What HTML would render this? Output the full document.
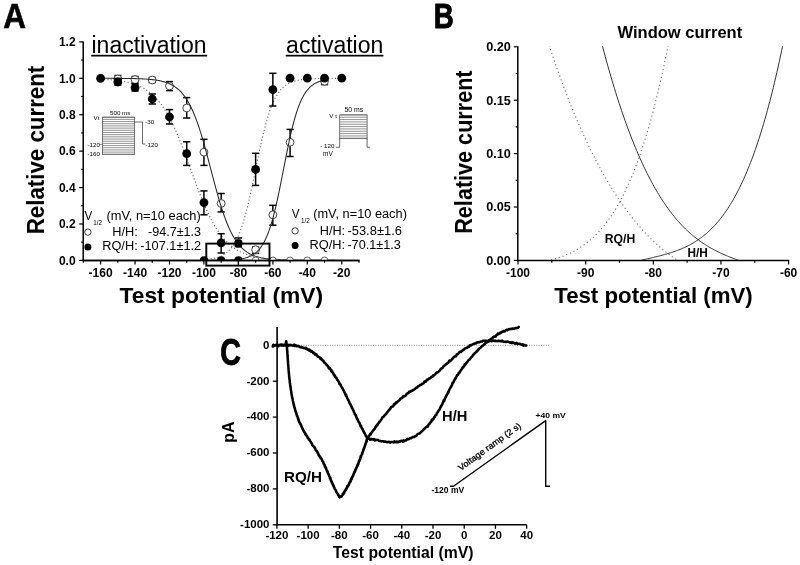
<!DOCTYPE html>
<html><head><meta charset="utf-8"><style>
html,body{margin:0;padding:0;background:#fff;}
svg{display:block;font-family:"Liberation Sans",sans-serif;will-change:transform;}
</style></head><body>
<svg width="800" height="565" viewBox="0 0 800 565">
<rect width="800" height="565" fill="#fff"/>
<text x="3.2" y="28.4" font-size="35" font-weight="bold" stroke="#000" stroke-width="0.6" transform="translate(3.2 0) scale(0.9 1) translate(-3.2 0)">A</text>
<line x1="83.20" y1="41.38" x2="83.20" y2="261.10" stroke="#000" stroke-width="1.5" />
<line x1="82.50" y1="260.40" x2="359.50" y2="260.40" stroke="#000" stroke-width="1.5" />
<line x1="79.20" y1="260.40" x2="83.20" y2="260.40" stroke="#000" stroke-width="1.2" />
<text x="75.60" y="264.70" font-size="12" font-weight="bold" text-anchor="end" fill="#000" >0.0</text>
<line x1="81.20" y1="242.19" x2="83.20" y2="242.19" stroke="#000" stroke-width="1.2" />
<line x1="79.20" y1="223.98" x2="83.20" y2="223.98" stroke="#000" stroke-width="1.2" />
<text x="75.60" y="228.28" font-size="12" font-weight="bold" text-anchor="end" fill="#000" >0.2</text>
<line x1="81.20" y1="205.77" x2="83.20" y2="205.77" stroke="#000" stroke-width="1.2" />
<line x1="79.20" y1="187.56" x2="83.20" y2="187.56" stroke="#000" stroke-width="1.2" />
<text x="75.60" y="191.86" font-size="12" font-weight="bold" text-anchor="end" fill="#000" >0.4</text>
<line x1="81.20" y1="169.35" x2="83.20" y2="169.35" stroke="#000" stroke-width="1.2" />
<line x1="79.20" y1="151.14" x2="83.20" y2="151.14" stroke="#000" stroke-width="1.2" />
<text x="75.60" y="155.44" font-size="12" font-weight="bold" text-anchor="end" fill="#000" >0.6</text>
<line x1="81.20" y1="132.93" x2="83.20" y2="132.93" stroke="#000" stroke-width="1.2" />
<line x1="79.20" y1="114.72" x2="83.20" y2="114.72" stroke="#000" stroke-width="1.2" />
<text x="75.60" y="119.02" font-size="12" font-weight="bold" text-anchor="end" fill="#000" >0.8</text>
<line x1="81.20" y1="96.51" x2="83.20" y2="96.51" stroke="#000" stroke-width="1.2" />
<line x1="79.20" y1="78.30" x2="83.20" y2="78.30" stroke="#000" stroke-width="1.2" />
<text x="75.60" y="82.60" font-size="12" font-weight="bold" text-anchor="end" fill="#000" >1.0</text>
<line x1="81.20" y1="60.09" x2="83.20" y2="60.09" stroke="#000" stroke-width="1.2" />
<line x1="79.20" y1="41.88" x2="83.20" y2="41.88" stroke="#000" stroke-width="1.2" />
<text x="75.60" y="46.18" font-size="12" font-weight="bold" text-anchor="end" fill="#000" >1.2</text>
<line x1="83.38" y1="260.40" x2="83.38" y2="262.70" stroke="#000" stroke-width="1.2" />
<line x1="100.60" y1="260.40" x2="100.60" y2="264.60" stroke="#000" stroke-width="1.2" />
<text x="100.60" y="277.30" font-size="12" font-weight="bold" text-anchor="middle" fill="#000" >-160</text>
<line x1="117.82" y1="260.40" x2="117.82" y2="262.70" stroke="#000" stroke-width="1.2" />
<line x1="135.05" y1="260.40" x2="135.05" y2="264.60" stroke="#000" stroke-width="1.2" />
<text x="135.05" y="277.30" font-size="12" font-weight="bold" text-anchor="middle" fill="#000" >-140</text>
<line x1="152.27" y1="260.40" x2="152.27" y2="262.70" stroke="#000" stroke-width="1.2" />
<line x1="169.50" y1="260.40" x2="169.50" y2="264.60" stroke="#000" stroke-width="1.2" />
<text x="169.50" y="277.30" font-size="12" font-weight="bold" text-anchor="middle" fill="#000" >-120</text>
<line x1="186.72" y1="260.40" x2="186.72" y2="262.70" stroke="#000" stroke-width="1.2" />
<line x1="203.95" y1="260.40" x2="203.95" y2="264.60" stroke="#000" stroke-width="1.2" />
<text x="203.95" y="277.30" font-size="12" font-weight="bold" text-anchor="middle" fill="#000" >-100</text>
<line x1="221.17" y1="260.40" x2="221.17" y2="262.70" stroke="#000" stroke-width="1.2" />
<line x1="238.40" y1="260.40" x2="238.40" y2="264.60" stroke="#000" stroke-width="1.2" />
<text x="238.40" y="277.30" font-size="12" font-weight="bold" text-anchor="middle" fill="#000" >-80</text>
<line x1="255.62" y1="260.40" x2="255.62" y2="262.70" stroke="#000" stroke-width="1.2" />
<line x1="272.85" y1="260.40" x2="272.85" y2="264.60" stroke="#000" stroke-width="1.2" />
<text x="272.85" y="277.30" font-size="12" font-weight="bold" text-anchor="middle" fill="#000" >-60</text>
<line x1="290.07" y1="260.40" x2="290.07" y2="262.70" stroke="#000" stroke-width="1.2" />
<line x1="307.30" y1="260.40" x2="307.30" y2="264.60" stroke="#000" stroke-width="1.2" />
<text x="307.30" y="277.30" font-size="12" font-weight="bold" text-anchor="middle" fill="#000" >-40</text>
<line x1="324.52" y1="260.40" x2="324.52" y2="262.70" stroke="#000" stroke-width="1.2" />
<line x1="341.75" y1="260.40" x2="341.75" y2="264.60" stroke="#000" stroke-width="1.2" />
<text x="341.75" y="277.30" font-size="12" font-weight="bold" text-anchor="middle" fill="#000" >-20</text>
<line x1="358.98" y1="260.40" x2="358.98" y2="262.70" stroke="#000" stroke-width="1.2" />
<text x="0" y="0" font-size="23.6" font-weight="bold" text-anchor="middle" textLength="168.6" lengthAdjust="spacingAndGlyphs" transform="translate(43.8 150.0) rotate(-90)">Relative current</text>
<text x="119.50" y="303.40" font-size="22.6" font-weight="bold" text-anchor="start" fill="#000" textLength="203.6" lengthAdjust="spacingAndGlyphs">Test potential (mV)</text>
<text x="91.50" y="53.20" font-size="23" text-anchor="start" fill="#000" textLength="115" lengthAdjust="spacingAndGlyphs">inactivation</text>
<rect x="91.2" y="54.8" width="116" height="1.7" fill="#000"/>
<text x="286.10" y="53.20" font-size="23" text-anchor="start" fill="#000" textLength="97.2" lengthAdjust="spacingAndGlyphs">activation</text>
<rect x="285.8" y="54.8" width="97.6" height="1.7" fill="#000"/>
<line x1="117.82" y1="75.50" x2="117.82" y2="83.00" stroke="#000" stroke-width="1.5" />
<line x1="114.22" y1="75.50" x2="121.42" y2="75.50" stroke="#000" stroke-width="1.5" />
<line x1="114.22" y1="83.00" x2="121.42" y2="83.00" stroke="#000" stroke-width="1.5" />
<line x1="135.05" y1="76.50" x2="135.05" y2="83.00" stroke="#000" stroke-width="1.5" />
<line x1="131.45" y1="76.50" x2="138.65" y2="76.50" stroke="#000" stroke-width="1.5" />
<line x1="131.45" y1="83.00" x2="138.65" y2="83.00" stroke="#000" stroke-width="1.5" />
<line x1="152.27" y1="77.50" x2="152.27" y2="82.50" stroke="#000" stroke-width="1.5" />
<line x1="148.67" y1="77.50" x2="155.87" y2="77.50" stroke="#000" stroke-width="1.5" />
<line x1="148.67" y1="82.50" x2="155.87" y2="82.50" stroke="#000" stroke-width="1.5" />
<line x1="169.50" y1="81.60" x2="169.50" y2="90.60" stroke="#000" stroke-width="1.5" />
<line x1="165.90" y1="81.60" x2="173.10" y2="81.60" stroke="#000" stroke-width="1.5" />
<line x1="165.90" y1="90.60" x2="173.10" y2="90.60" stroke="#000" stroke-width="1.5" />
<line x1="186.72" y1="97.60" x2="186.72" y2="118.00" stroke="#000" stroke-width="1.5" />
<line x1="183.12" y1="97.60" x2="190.32" y2="97.60" stroke="#000" stroke-width="1.5" />
<line x1="183.12" y1="118.00" x2="190.32" y2="118.00" stroke="#000" stroke-width="1.5" />
<line x1="203.95" y1="139.30" x2="203.95" y2="165.40" stroke="#000" stroke-width="1.5" />
<line x1="200.35" y1="139.30" x2="207.55" y2="139.30" stroke="#000" stroke-width="1.5" />
<line x1="200.35" y1="165.40" x2="207.55" y2="165.40" stroke="#000" stroke-width="1.5" />
<line x1="221.17" y1="193.50" x2="221.17" y2="211.90" stroke="#000" stroke-width="1.5" />
<line x1="217.57" y1="193.50" x2="224.77" y2="193.50" stroke="#000" stroke-width="1.5" />
<line x1="217.57" y1="211.90" x2="224.77" y2="211.90" stroke="#000" stroke-width="1.5" />
<line x1="238.40" y1="238.00" x2="238.40" y2="246.00" stroke="#000" stroke-width="1.5" />
<line x1="234.80" y1="238.00" x2="242.00" y2="238.00" stroke="#000" stroke-width="1.5" />
<line x1="234.80" y1="246.00" x2="242.00" y2="246.00" stroke="#000" stroke-width="1.5" />
<line x1="255.62" y1="246.90" x2="255.62" y2="253.40" stroke="#000" stroke-width="1.5" />
<line x1="252.03" y1="246.90" x2="259.23" y2="246.90" stroke="#000" stroke-width="1.5" />
<line x1="252.03" y1="253.40" x2="259.23" y2="253.40" stroke="#000" stroke-width="1.5" />
<line x1="272.85" y1="205.30" x2="272.85" y2="225.20" stroke="#000" stroke-width="1.5" />
<line x1="269.25" y1="205.30" x2="276.45" y2="205.30" stroke="#000" stroke-width="1.5" />
<line x1="269.25" y1="225.20" x2="276.45" y2="225.20" stroke="#000" stroke-width="1.5" />
<line x1="290.07" y1="129.40" x2="290.07" y2="156.50" stroke="#000" stroke-width="1.5" />
<line x1="286.47" y1="129.40" x2="293.68" y2="129.40" stroke="#000" stroke-width="1.5" />
<line x1="286.47" y1="156.50" x2="293.68" y2="156.50" stroke="#000" stroke-width="1.5" />
<line x1="324.52" y1="78.20" x2="324.52" y2="84.60" stroke="#000" stroke-width="1.5" />
<line x1="320.92" y1="78.20" x2="328.12" y2="78.20" stroke="#000" stroke-width="1.5" />
<line x1="320.92" y1="84.60" x2="328.12" y2="84.60" stroke="#000" stroke-width="1.5" />
<circle cx="117.82" cy="79.00" r="3.9" fill="#fff" stroke="#444" stroke-width="1"/>
<circle cx="135.05" cy="79.60" r="3.9" fill="#fff" stroke="#444" stroke-width="1"/>
<circle cx="152.27" cy="80.00" r="3.9" fill="#fff" stroke="#444" stroke-width="1"/>
<circle cx="169.50" cy="86.00" r="3.9" fill="#fff" stroke="#444" stroke-width="1"/>
<circle cx="186.72" cy="108.00" r="3.9" fill="#fff" stroke="#444" stroke-width="1"/>
<circle cx="203.95" cy="152.20" r="3.9" fill="#fff" stroke="#444" stroke-width="1"/>
<circle cx="221.17" cy="203.50" r="3.9" fill="#fff" stroke="#444" stroke-width="1"/>
<circle cx="238.40" cy="243.50" r="3.9" fill="#fff" stroke="#444" stroke-width="1"/>
<circle cx="255.62" cy="249.70" r="3.9" fill="#fff" stroke="#444" stroke-width="1"/>
<circle cx="272.85" cy="214.80" r="3.9" fill="#fff" stroke="#444" stroke-width="1"/>
<circle cx="290.07" cy="142.30" r="3.9" fill="#fff" stroke="#444" stroke-width="1"/>
<circle cx="324.52" cy="81.20" r="3.9" fill="#fff" stroke="#444" stroke-width="1"/>
<clipPath id="clipA"><rect x="83.2" y="40" width="277" height="220.4"/></clipPath>
<polyline points="100.60,78.32 101.46,78.32 102.32,78.32 103.18,78.32 104.04,78.32 104.91,78.32 105.77,78.33 106.63,78.33 107.49,78.33 108.35,78.33 109.21,78.34 110.07,78.34 110.93,78.34 111.80,78.34 112.66,78.35 113.52,78.35 114.38,78.35 115.24,78.36 116.10,78.36 116.96,78.37 117.82,78.37 118.69,78.38 119.55,78.38 120.41,78.39 121.27,78.40 122.13,78.40 122.99,78.41 123.85,78.42 124.71,78.43 125.58,78.44 126.44,78.45 127.30,78.46 128.16,78.47 129.02,78.49 129.88,78.50 130.74,78.52 131.60,78.53 132.47,78.55 133.33,78.57 134.19,78.59 135.05,78.61 135.91,78.63 136.77,78.66 137.63,78.68 138.50,78.71 139.36,78.74 140.22,78.78 141.08,78.81 141.94,78.85 142.80,78.89 143.66,78.94 144.52,78.98 145.38,79.04 146.25,79.09 147.11,79.15 147.97,79.21 148.83,79.28 149.69,79.36 150.55,79.43 151.41,79.52 152.27,79.61 153.14,79.71 154.00,79.81 154.86,79.92 155.72,80.05 156.58,80.18 157.44,80.32 158.30,80.46 159.16,80.63 160.03,80.80 160.89,80.98 161.75,81.18 162.61,81.39 163.47,81.62 164.33,81.87 165.19,82.13 166.06,82.41 166.92,82.71 167.78,83.04 168.64,83.38 169.50,83.75 170.36,84.15 171.22,84.57 172.08,85.03 172.94,85.51 173.81,86.03 174.67,86.59 175.53,87.18 176.39,87.81 177.25,88.48 178.11,89.20 178.97,89.97 179.83,90.79 180.70,91.66 181.56,92.58 182.42,93.57 183.28,94.61 184.14,95.72 185.00,96.90 185.86,98.14 186.72,99.46 187.59,100.85 188.45,102.32 189.31,103.88 190.17,105.51 191.03,107.23 191.89,109.04 192.75,110.93 193.62,112.92 194.48,115.00 195.34,117.17 196.20,119.43 197.06,121.78 197.92,124.22 198.78,126.76 199.64,129.38 200.50,132.08 201.37,134.87 202.23,137.73 203.09,140.67 203.95,143.67 204.81,146.74 205.67,149.86 206.53,153.03 207.39,156.25 208.26,159.49 209.12,162.76 209.98,166.05 210.84,169.35 211.70,172.65 212.56,175.94 213.42,179.21 214.28,182.45 215.15,185.67 216.01,188.84 216.87,191.96 217.73,195.03 218.59,198.03 219.45,200.97 220.31,203.83 221.17,206.62 222.04,209.32 222.90,211.94 223.76,214.48 224.62,216.92 225.48,219.27 226.34,221.53 227.20,223.70 228.06,225.78 228.93,227.77 229.79,229.66 230.65,231.47 231.51,233.19 232.37,234.82 233.23,236.38 234.09,237.85 234.95,239.24 235.82,240.56 236.68,241.80 237.54,242.98 238.40,244.09 239.26,245.13 240.12,246.12 240.98,247.04 241.84,247.91 242.71,248.73 243.57,249.50 244.43,250.22 245.29,250.89 246.15,251.52 247.01,252.11 247.87,252.67 248.73,253.19 249.60,253.67 250.46,254.13 251.32,254.55 252.18,254.95 253.04,255.32 253.90,255.66 254.76,255.99 255.62,256.29 256.49,256.57 257.35,256.83 258.21,257.08 259.07,257.31 259.93,257.52 260.79,257.72 261.65,257.90 262.51,258.07 263.38,258.24 264.24,258.38 265.10,258.52 265.96,258.65 266.82,258.78 267.68,258.89 268.54,258.99 269.40,259.09 270.27,259.18 271.13,259.27 271.99,259.34 272.85,259.42 273.71,259.49 274.57,259.55 275.43,259.61 276.29,259.66 277.16,259.72 278.02,259.76 278.88,259.81 279.74,259.85 280.60,259.89 281.46,259.92 282.32,259.96 283.18,259.99 284.05,260.02 284.91,260.04 285.77,260.07 286.63,260.09 287.49,260.11 288.35,260.13 289.21,260.15 290.07,260.17 290.94,260.18 291.80,260.20 292.66,260.21 293.52,260.23 294.38,260.24 295.24,260.25 296.10,260.26 296.96,260.27 297.83,260.28 298.69,260.29 299.55,260.30 300.41,260.30 301.27,260.31 302.13,260.32 302.99,260.32 303.86,260.33 304.72,260.33 305.58,260.34 306.44,260.34 307.30,260.35 308.16,260.35 309.02,260.35 309.88,260.36 310.75,260.36 311.61,260.36 312.47,260.36 313.33,260.37 314.19,260.37 315.05,260.37 315.91,260.37 316.77,260.38 317.63,260.38 318.50,260.38 319.36,260.38 320.22,260.38 321.08,260.38 321.94,260.38 322.80,260.39 323.66,260.39 324.52,260.39 325.39,260.39 326.25,260.39 327.11,260.39 327.97,260.39 328.83,260.39 329.69,260.39 330.55,260.39 331.41,260.39 332.28,260.39 333.14,260.39 334.00,260.39 334.86,260.39 335.72,260.40 336.58,260.40 337.44,260.40 338.30,260.40 339.17,260.40 340.03,260.40 340.89,260.40 341.75,260.40" fill="none" stroke="#2a2a2a" stroke-width="1.05" stroke-linejoin="round" stroke-linecap="round" clip-path="url(#clipA)"/>
<polyline points="100.60,79.08 101.46,79.12 102.32,79.17 103.18,79.21 104.04,79.26 104.91,79.31 105.77,79.37 106.63,79.42 107.49,79.48 108.35,79.54 109.21,79.61 110.07,79.68 110.93,79.75 111.80,79.83 112.66,79.91 113.52,80.00 114.38,80.09 115.24,80.18 116.10,80.28 116.96,80.38 117.82,80.49 118.69,80.61 119.55,80.73 120.41,80.86 121.27,81.00 122.13,81.14 122.99,81.29 123.85,81.44 124.71,81.61 125.58,81.78 126.44,81.96 127.30,82.16 128.16,82.36 129.02,82.57 129.88,82.79 130.74,83.03 131.60,83.27 132.47,83.53 133.33,83.80 134.19,84.09 135.05,84.39 135.91,84.70 136.77,85.03 137.63,85.38 138.50,85.74 139.36,86.12 140.22,86.52 141.08,86.94 141.94,87.37 142.80,87.83 143.66,88.32 144.52,88.82 145.38,89.35 146.25,89.90 147.11,90.48 147.97,91.09 148.83,91.72 149.69,92.38 150.55,93.07 151.41,93.80 152.27,94.55 153.14,95.34 154.00,96.16 154.86,97.02 155.72,97.91 156.58,98.84 157.44,99.81 158.30,100.82 159.16,101.86 160.03,102.95 160.89,104.08 161.75,105.26 162.61,106.48 163.47,107.74 164.33,109.05 165.19,110.40 166.06,111.80 166.92,113.25 167.78,114.75 168.64,116.29 169.50,117.88 170.36,119.51 171.22,121.20 172.08,122.93 172.94,124.71 173.81,126.53 174.67,128.40 175.53,130.31 176.39,132.27 177.25,134.27 178.11,136.31 178.97,138.39 179.83,140.50 180.70,142.65 181.56,144.84 182.42,147.05 183.28,149.29 184.14,151.56 185.00,153.85 185.86,156.17 186.72,158.49 187.59,160.84 188.45,163.19 189.31,165.56 190.17,167.93 191.03,170.30 191.89,172.67 192.75,175.03 193.62,177.39 194.48,179.74 195.34,182.07 196.20,184.39 197.06,186.68 197.92,188.96 198.78,191.20 199.64,193.42 200.50,195.61 201.37,197.77 202.23,199.89 203.09,201.98 203.95,204.03 204.81,206.03 205.67,208.00 206.53,209.92 207.39,211.80 208.26,213.63 209.12,215.42 209.98,217.16 210.84,218.85 211.70,220.50 212.56,222.10 213.42,223.65 214.28,225.15 215.15,226.61 216.01,228.02 216.87,229.38 217.73,230.70 218.59,231.97 219.45,233.20 220.31,234.38 221.17,235.52 222.04,236.62 222.90,237.68 223.76,238.69 224.62,239.67 225.48,240.61 226.34,241.51 227.20,242.37 228.06,243.20 228.93,243.99 229.79,244.76 230.65,245.48 231.51,246.18 232.37,246.85 233.23,247.49 234.09,248.10 234.95,248.68 235.82,249.24 236.68,249.78 237.54,250.28 238.40,250.77 239.26,251.23 240.12,251.68 240.98,252.10 241.84,252.50 242.71,252.89 243.57,253.25 244.43,253.60 245.29,253.94 246.15,254.25 247.01,254.55 247.87,254.84 248.73,255.12 249.60,255.38 250.46,255.62 251.32,255.86 252.18,256.09 253.04,256.30 253.90,256.50 254.76,256.70 255.62,256.88 256.49,257.06 257.35,257.22 258.21,257.38 259.07,257.53 259.93,257.68 260.79,257.81 261.65,257.94 262.51,258.07 263.38,258.18 264.24,258.29 265.10,258.40 265.96,258.50 266.82,258.60 267.68,258.69 268.54,258.77 269.40,258.85 270.27,258.93 271.13,259.01 271.99,259.08 272.85,259.14 273.71,259.21 274.57,259.27 275.43,259.32 276.29,259.38 277.16,259.43 278.02,259.48 278.88,259.53 279.74,259.57 280.60,259.61 281.46,259.65 282.32,259.69 283.18,259.72 284.05,259.76 284.91,259.79 285.77,259.82 286.63,259.85 287.49,259.88 288.35,259.91 289.21,259.93 290.07,259.95 290.94,259.98 291.80,260.00 292.66,260.02 293.52,260.04 294.38,260.06 295.24,260.07 296.10,260.09 296.96,260.11 297.83,260.12 298.69,260.14 299.55,260.15 300.41,260.16 301.27,260.17 302.13,260.18 302.99,260.20 303.86,260.21 304.72,260.22 305.58,260.23 306.44,260.23 307.30,260.24 308.16,260.25 309.02,260.26 309.88,260.27 310.75,260.27 311.61,260.28 312.47,260.28 313.33,260.29 314.19,260.30 315.05,260.30 315.91,260.31 316.77,260.31 317.63,260.32 318.50,260.32 319.36,260.32 320.22,260.33 321.08,260.33 321.94,260.33 322.80,260.34 323.66,260.34 324.52,260.34 325.39,260.35 326.25,260.35 327.11,260.35 327.97,260.35 328.83,260.36 329.69,260.36 330.55,260.36 331.41,260.36 332.28,260.37 333.14,260.37 334.00,260.37 334.86,260.37 335.72,260.37 336.58,260.37 337.44,260.37 338.30,260.38 339.17,260.38 340.03,260.38 340.89,260.38 341.75,260.38" fill="none" stroke="#666" stroke-width="1.2" stroke-linejoin="round" stroke-linecap="butt" stroke-dasharray="1.1 2.3" clip-path="url(#clipA)"/>
<polyline points="203.95,260.38 204.81,260.37 205.67,260.37 206.53,260.37 207.39,260.37 208.26,260.36 209.12,260.36 209.98,260.35 210.84,260.35 211.70,260.34 212.56,260.34 213.42,260.33 214.28,260.32 215.15,260.32 216.01,260.31 216.87,260.30 217.73,260.29 218.59,260.28 219.45,260.27 220.31,260.25 221.17,260.24 222.04,260.22 222.90,260.20 223.76,260.18 224.62,260.16 225.48,260.13 226.34,260.11 227.20,260.08 228.06,260.05 228.93,260.01 229.79,259.97 230.65,259.93 231.51,259.88 232.37,259.83 233.23,259.77 234.09,259.70 234.95,259.63 235.82,259.55 236.68,259.47 237.54,259.38 238.40,259.27 239.26,259.16 240.12,259.03 240.98,258.89 241.84,258.74 242.71,258.58 243.57,258.39 244.43,258.19 245.29,257.97 246.15,257.72 247.01,257.46 247.87,257.16 248.73,256.84 249.60,256.48 250.46,256.10 251.32,255.67 252.18,255.20 253.04,254.69 253.90,254.13 254.76,253.51 255.62,252.84 256.49,252.11 257.35,251.31 258.21,250.43 259.07,249.48 259.93,248.44 260.79,247.31 261.65,246.08 262.51,244.75 263.38,243.31 264.24,241.75 265.10,240.06 265.96,238.24 266.82,236.29 267.68,234.19 268.54,231.94 269.40,229.53 270.27,226.97 271.13,224.24 271.99,221.35 272.85,218.30 273.71,215.08 274.57,211.70 275.43,208.17 276.29,204.49 277.16,200.66 278.02,196.71 278.88,192.64 279.74,188.47 280.60,184.21 281.46,179.89 282.32,175.52 283.18,171.11 284.05,166.70 284.91,162.31 285.77,157.94 286.63,153.63 287.49,149.39 288.35,145.24 289.21,141.19 290.07,137.26 290.94,133.47 291.80,129.81 292.66,126.31 293.52,122.96 294.38,119.78 295.24,116.76 296.10,113.90 296.96,111.21 297.83,108.67 298.69,106.30 299.55,104.08 300.41,102.01 301.27,100.08 302.13,98.29 302.99,96.63 303.86,95.09 304.72,93.67 305.58,92.36 306.44,91.16 307.30,90.05 308.16,89.02 309.02,88.09 309.88,87.23 310.75,86.44 311.61,85.72 312.47,85.06 313.33,84.46 314.19,83.91 315.05,83.40 315.91,82.94 316.77,82.52 317.63,82.14 318.50,81.79 319.36,81.48 320.22,81.19 321.08,80.93 321.94,80.69 322.80,80.47 323.66,80.27 324.52,80.09" fill="none" stroke="#2a2a2a" stroke-width="1.05" stroke-linejoin="round" stroke-linecap="round" clip-path="url(#clipA)"/>
<polyline points="203.95,259.70 204.81,259.63 205.67,259.56 206.53,259.48 207.39,259.39 208.26,259.29 209.12,259.18 209.98,259.06 210.84,258.94 211.70,258.79 212.56,258.64 213.42,258.47 214.28,258.29 215.15,258.08 216.01,257.86 216.87,257.62 217.73,257.35 218.59,257.06 219.45,256.75 220.31,256.40 221.17,256.02 222.04,255.61 222.90,255.16 223.76,254.66 224.62,254.13 225.48,253.54 226.34,252.90 227.20,252.21 228.06,251.45 228.93,250.63 229.79,249.74 230.65,248.77 231.51,247.72 232.37,246.59 233.23,245.36 234.09,244.03 234.95,242.60 235.82,241.05 236.68,239.39 237.54,237.61 238.40,235.70 239.26,233.65 240.12,231.47 240.98,229.15 241.84,226.67 242.71,224.06 243.57,221.29 244.43,218.37 245.29,215.30 246.15,212.09 247.01,208.73 247.87,205.23 248.73,201.61 249.60,197.87 250.46,194.01 251.32,190.06 252.18,186.02 253.04,181.92 253.90,177.76 254.76,173.56 255.62,169.35 256.49,165.14 257.35,160.94 258.21,156.78 259.07,152.68 259.93,148.64 260.79,144.69 261.65,140.83 262.51,137.09 263.38,133.47 264.24,129.97 265.10,126.61 265.96,123.40 266.82,120.33 267.68,117.41 268.54,114.64 269.40,112.03 270.27,109.55 271.13,107.23 271.99,105.05 272.85,103.00 273.71,101.09 274.57,99.31 275.43,97.65 276.29,96.10 277.16,94.67 278.02,93.34 278.88,92.11 279.74,90.98 280.60,89.93 281.46,88.96 282.32,88.07 283.18,87.25 284.05,86.49 284.91,85.80 285.77,85.16 286.63,84.57 287.49,84.04 288.35,83.54 289.21,83.09 290.07,82.68 290.94,82.30 291.80,81.95 292.66,81.64 293.52,81.35 294.38,81.08 295.24,80.84 296.10,80.62 296.96,80.41 297.83,80.23 298.69,80.06 299.55,79.91 300.41,79.76 301.27,79.64 302.13,79.52 302.99,79.41 303.86,79.31 304.72,79.22 305.58,79.14 306.44,79.07 307.30,79.00 308.16,78.94 309.02,78.88 309.88,78.83 310.75,78.78 311.61,78.74 312.47,78.70 313.33,78.67 314.19,78.64 315.05,78.61 315.91,78.58 316.77,78.55 317.63,78.53 318.50,78.51 319.36,78.49 320.22,78.48 321.08,78.46 321.94,78.45 322.80,78.43 323.66,78.42 324.52,78.41 325.39,78.40 326.25,78.39 327.11,78.38 327.97,78.38 328.83,78.37 329.69,78.36 330.55,78.36 331.41,78.35 332.28,78.35 333.14,78.34 334.00,78.34 334.86,78.34 335.72,78.33 336.58,78.33 337.44,78.33 338.30,78.33 339.17,78.32 340.03,78.32 340.89,78.32 341.75,78.32" fill="none" stroke="#666" stroke-width="1.2" stroke-linejoin="round" stroke-linecap="butt" stroke-dasharray="1.1 2.3" clip-path="url(#clipA)"/>
<line x1="117.82" y1="79.00" x2="117.82" y2="85.00" stroke="#000" stroke-width="1.5" />
<line x1="114.22" y1="79.00" x2="121.42" y2="79.00" stroke="#000" stroke-width="1.5" />
<line x1="114.22" y1="85.00" x2="121.42" y2="85.00" stroke="#000" stroke-width="1.5" />
<line x1="135.05" y1="84.00" x2="135.05" y2="91.00" stroke="#000" stroke-width="1.5" />
<line x1="131.45" y1="84.00" x2="138.65" y2="84.00" stroke="#000" stroke-width="1.5" />
<line x1="131.45" y1="91.00" x2="138.65" y2="91.00" stroke="#000" stroke-width="1.5" />
<line x1="152.27" y1="94.00" x2="152.27" y2="104.00" stroke="#000" stroke-width="1.5" />
<line x1="148.67" y1="94.00" x2="155.87" y2="94.00" stroke="#000" stroke-width="1.5" />
<line x1="148.67" y1="104.00" x2="155.87" y2="104.00" stroke="#000" stroke-width="1.5" />
<line x1="169.50" y1="109.60" x2="169.50" y2="124.00" stroke="#000" stroke-width="1.5" />
<line x1="165.90" y1="109.60" x2="173.10" y2="109.60" stroke="#000" stroke-width="1.5" />
<line x1="165.90" y1="124.00" x2="173.10" y2="124.00" stroke="#000" stroke-width="1.5" />
<line x1="186.72" y1="141.80" x2="186.72" y2="165.40" stroke="#000" stroke-width="1.5" />
<line x1="183.12" y1="141.80" x2="190.32" y2="141.80" stroke="#000" stroke-width="1.5" />
<line x1="183.12" y1="165.40" x2="190.32" y2="165.40" stroke="#000" stroke-width="1.5" />
<line x1="203.95" y1="190.90" x2="203.95" y2="214.80" stroke="#000" stroke-width="1.5" />
<line x1="200.35" y1="190.90" x2="207.55" y2="190.90" stroke="#000" stroke-width="1.5" />
<line x1="200.35" y1="214.80" x2="207.55" y2="214.80" stroke="#000" stroke-width="1.5" />
<line x1="221.17" y1="233.70" x2="221.17" y2="253.00" stroke="#000" stroke-width="1.5" />
<line x1="217.57" y1="233.70" x2="224.77" y2="233.70" stroke="#000" stroke-width="1.5" />
<line x1="217.57" y1="253.00" x2="224.77" y2="253.00" stroke="#000" stroke-width="1.5" />
<line x1="255.62" y1="153.30" x2="255.62" y2="185.40" stroke="#000" stroke-width="1.5" />
<line x1="252.03" y1="153.30" x2="259.23" y2="153.30" stroke="#000" stroke-width="1.5" />
<line x1="252.03" y1="185.40" x2="259.23" y2="185.40" stroke="#000" stroke-width="1.5" />
<line x1="272.85" y1="73.30" x2="272.85" y2="106.00" stroke="#000" stroke-width="1.5" />
<line x1="269.25" y1="73.30" x2="276.45" y2="73.30" stroke="#000" stroke-width="1.5" />
<line x1="269.25" y1="106.00" x2="276.45" y2="106.00" stroke="#000" stroke-width="1.5" />
<circle cx="100.60" cy="78.30" r="4.4" fill="#000"/>
<circle cx="117.82" cy="82.00" r="4.4" fill="#000"/>
<circle cx="135.05" cy="87.60" r="4.4" fill="#000"/>
<circle cx="152.27" cy="99.00" r="4.4" fill="#000"/>
<circle cx="169.50" cy="117.00" r="4.4" fill="#000"/>
<circle cx="186.72" cy="153.70" r="4.4" fill="#000"/>
<circle cx="203.95" cy="202.60" r="4.4" fill="#000"/>
<circle cx="221.17" cy="242.90" r="4.4" fill="#000"/>
<circle cx="255.62" cy="169.40" r="4.4" fill="#000"/>
<circle cx="272.85" cy="89.70" r="4.4" fill="#000"/>
<circle cx="290.07" cy="78.20" r="4.4" fill="#000"/>
<circle cx="307.30" cy="78.20" r="4.4" fill="#000"/>
<circle cx="324.52" cy="78.20" r="4.4" fill="#000"/>
<circle cx="341.75" cy="78.20" r="4.4" fill="#000"/>
<rect x="234.70" y="239.6" width="7.4" height="8" rx="1.6" fill="#000"/>
<clipPath id="clipZ"><rect x="83.2" y="200" width="277" height="60.4"/></clipPath>
<circle cx="203.95" cy="260.4" r="4.1" fill="#000" clip-path="url(#clipZ)"/>
<circle cx="221.17" cy="260.4" r="4.1" fill="#000" clip-path="url(#clipZ)"/>
<circle cx="238.40" cy="260.4" r="4.1" fill="#000" clip-path="url(#clipZ)"/>
<circle cx="255.62" cy="260.4" r="3.4" fill="#fff" stroke="#555" stroke-width="0.9" clip-path="url(#clipZ)"/>
<circle cx="272.85" cy="260.4" r="3.4" fill="#fff" stroke="#555" stroke-width="0.9" clip-path="url(#clipZ)"/>
<circle cx="290.07" cy="260.4" r="3.4" fill="#fff" stroke="#555" stroke-width="0.9" clip-path="url(#clipZ)"/>
<circle cx="307.30" cy="260.4" r="3.4" fill="#fff" stroke="#555" stroke-width="0.9" clip-path="url(#clipZ)"/>
<circle cx="324.52" cy="260.4" r="3.4" fill="#fff" stroke="#555" stroke-width="0.9" clip-path="url(#clipZ)"/>
<rect x="206.3" y="243.6" width="63.2" height="22" fill="none" stroke="#000" stroke-width="1.9"/>
<line x1="238.40" y1="260.40" x2="238.40" y2="265.00" stroke="#000" stroke-width="1.2" />
<line x1="82.50" y1="260.40" x2="359.50" y2="260.40" stroke="#000" stroke-width="1.5" />
<rect x="102.5" y="117.2" width="32" height="37.1" fill="none" stroke="#555" stroke-width="0.8"/>
<line x1="102.50" y1="117.20" x2="134.50" y2="117.20" stroke="#666" stroke-width="0.7" />
<line x1="102.50" y1="119.38" x2="134.50" y2="119.38" stroke="#666" stroke-width="0.7" />
<line x1="102.50" y1="121.56" x2="134.50" y2="121.56" stroke="#666" stroke-width="0.7" />
<line x1="102.50" y1="123.75" x2="134.50" y2="123.75" stroke="#666" stroke-width="0.7" />
<line x1="102.50" y1="125.93" x2="134.50" y2="125.93" stroke="#666" stroke-width="0.7" />
<line x1="102.50" y1="128.11" x2="134.50" y2="128.11" stroke="#666" stroke-width="0.7" />
<line x1="102.50" y1="130.29" x2="134.50" y2="130.29" stroke="#666" stroke-width="0.7" />
<line x1="102.50" y1="132.48" x2="134.50" y2="132.48" stroke="#666" stroke-width="0.7" />
<line x1="102.50" y1="134.66" x2="134.50" y2="134.66" stroke="#666" stroke-width="0.7" />
<line x1="102.50" y1="136.84" x2="134.50" y2="136.84" stroke="#666" stroke-width="0.7" />
<line x1="102.50" y1="139.02" x2="134.50" y2="139.02" stroke="#666" stroke-width="0.7" />
<line x1="102.50" y1="141.21" x2="134.50" y2="141.21" stroke="#666" stroke-width="0.7" />
<line x1="102.50" y1="143.39" x2="134.50" y2="143.39" stroke="#666" stroke-width="0.7" />
<line x1="102.50" y1="145.57" x2="134.50" y2="145.57" stroke="#666" stroke-width="0.7" />
<line x1="102.50" y1="147.75" x2="134.50" y2="147.75" stroke="#666" stroke-width="0.7" />
<line x1="102.50" y1="149.94" x2="134.50" y2="149.94" stroke="#666" stroke-width="0.7" />
<line x1="102.50" y1="152.12" x2="134.50" y2="152.12" stroke="#666" stroke-width="0.7" />
<line x1="102.50" y1="154.30" x2="134.50" y2="154.30" stroke="#666" stroke-width="0.7" />
<polyline points="134.50,122.00 142.50,122.00 142.50,144.00 145.00,144.00" fill="none" stroke="#444" stroke-width="0.8" stroke-linejoin="round" stroke-linecap="round" />
<text x="110.00" y="114.50" font-size="6.2" text-anchor="start" fill="#000" fill="#333">500 ms</text>
<text x="93.50" y="120.00" font-size="6.2" text-anchor="start" fill="#000" fill="#333">Vt</text>
<text x="145.20" y="124.00" font-size="6.2" text-anchor="start" fill="#000" fill="#333">-30</text>
<text x="87.50" y="146.50" font-size="6.2" text-anchor="start" fill="#000" fill="#333">-120</text>
<text x="87.50" y="156.00" font-size="6.2" text-anchor="start" fill="#000" fill="#333">-160</text>
<text x="145.50" y="147.00" font-size="6.2" text-anchor="start" fill="#000" fill="#333">-120</text>
<line x1="99.00" y1="144.50" x2="102.50" y2="144.50" stroke="#555" stroke-width="0.6" />
<rect x="339.7" y="114.9" width="27.4" height="23.4" fill="none" stroke="#555" stroke-width="0.8"/>
<line x1="339.70" y1="114.90" x2="367.10" y2="114.90" stroke="#666" stroke-width="0.7" />
<line x1="339.70" y1="117.24" x2="367.10" y2="117.24" stroke="#666" stroke-width="0.7" />
<line x1="339.70" y1="119.58" x2="367.10" y2="119.58" stroke="#666" stroke-width="0.7" />
<line x1="339.70" y1="121.92" x2="367.10" y2="121.92" stroke="#666" stroke-width="0.7" />
<line x1="339.70" y1="124.26" x2="367.10" y2="124.26" stroke="#666" stroke-width="0.7" />
<line x1="339.70" y1="126.60" x2="367.10" y2="126.60" stroke="#666" stroke-width="0.7" />
<line x1="339.70" y1="128.94" x2="367.10" y2="128.94" stroke="#666" stroke-width="0.7" />
<line x1="339.70" y1="131.28" x2="367.10" y2="131.28" stroke="#666" stroke-width="0.7" />
<line x1="339.70" y1="133.62" x2="367.10" y2="133.62" stroke="#666" stroke-width="0.7" />
<line x1="339.70" y1="135.96" x2="367.10" y2="135.96" stroke="#666" stroke-width="0.7" />
<line x1="339.70" y1="138.30" x2="367.10" y2="138.30" stroke="#666" stroke-width="0.7" />
<polyline points="336.30,147.30 339.70,147.30 339.70,138.30" fill="none" stroke="#444" stroke-width="0.8" stroke-linejoin="round" stroke-linecap="round" />
<polyline points="367.10,138.30 367.10,147.30 369.70,147.30" fill="none" stroke="#444" stroke-width="0.8" stroke-linejoin="round" stroke-linecap="round" />
<text x="344.50" y="112.20" font-size="6.4" text-anchor="start" fill="#000" fill="#333" textLength="18.8" lengthAdjust="spacingAndGlyphs">50  ms</text>
<text x="329.30" y="117.50" font-size="6.2" text-anchor="start" fill="#000" fill="#333">V t</text>
<text x="320.30" y="148.00" font-size="6.2" text-anchor="start" fill="#000" fill="#333">- 120</text>
<text x="323.00" y="156.00" font-size="6.4" text-anchor="start" fill="#000" fill="#333" textLength="9.8" lengthAdjust="spacingAndGlyphs">mV</text>
<text x="84.40" y="219.90" font-size="12.5" text-anchor="start" fill="#000" fill="#1a1a1a" textLength="7.8" lengthAdjust="spacingAndGlyphs">V</text>
<text x="93.30" y="224.50" font-size="6.3" text-anchor="start" fill="#000" fill="#1a1a1a">1/2</text>
<text x="106.40" y="219.90" font-size="12.5" text-anchor="start" fill="#000" fill="#1a1a1a" textLength="94.3" lengthAdjust="spacingAndGlyphs">(mV, n=10 each)</text>
<text x="291.80" y="217.90" font-size="12.5" text-anchor="start" fill="#000" fill="#1a1a1a" textLength="7.8" lengthAdjust="spacingAndGlyphs">V</text>
<text x="301.10" y="222.50" font-size="6.3" text-anchor="start" fill="#000" fill="#1a1a1a">1/2</text>
<text x="313.20" y="217.90" font-size="12.5" text-anchor="start" fill="#000" fill="#1a1a1a" textLength="93.7" lengthAdjust="spacingAndGlyphs">(mV, n=10 each)</text>
<circle cx="87.90" cy="232.10" r="3.2" fill="#fff" stroke="#444" stroke-width="1"/>
<circle cx="87.90" cy="247.00" r="3.5" fill="#000"/>
<text x="112.20" y="236.20" font-size="12.5" text-anchor="start" fill="#000" fill="#1a1a1a" textLength="25.5" lengthAdjust="spacingAndGlyphs">H/H:</text>
<text x="148.00" y="236.20" font-size="12.5" text-anchor="start" fill="#000" fill="#1a1a1a" textLength="53" lengthAdjust="spacingAndGlyphs">-94.7±1.3</text>
<text x="102.20" y="250.20" font-size="12.5" text-anchor="start" fill="#000" fill="#1a1a1a" textLength="35.5" lengthAdjust="spacingAndGlyphs">RQ/H:</text>
<text x="140.20" y="250.20" font-size="12.5" text-anchor="start" fill="#000" fill="#1a1a1a" textLength="61" lengthAdjust="spacingAndGlyphs">-107.1±1.2</text>
<circle cx="295.10" cy="230.90" r="3.2" fill="#fff" stroke="#444" stroke-width="1"/>
<circle cx="295.10" cy="245.50" r="3.5" fill="#000"/>
<text x="319.80" y="234.90" font-size="12.5" text-anchor="start" fill="#000" fill="#1a1a1a" textLength="25.3" lengthAdjust="spacingAndGlyphs">H/H:</text>
<text x="347.40" y="234.90" font-size="12.5" text-anchor="start" fill="#000" fill="#1a1a1a" textLength="54.6" lengthAdjust="spacingAndGlyphs">-53.8±1.6</text>
<text x="309.50" y="248.70" font-size="12.5" text-anchor="start" fill="#000" fill="#1a1a1a" textLength="35.6" lengthAdjust="spacingAndGlyphs">RQ/H:</text>
<text x="347.40" y="248.70" font-size="12.5" text-anchor="start" fill="#000" fill="#1a1a1a" textLength="53.4" lengthAdjust="spacingAndGlyphs">-70.1±1.3</text>
<text x="433.8" y="28" font-size="34.6" font-weight="bold" stroke="#000" stroke-width="0.9" transform="translate(433.8 0) scale(0.8 1) translate(-433.8 0)">B</text>
<line x1="517.80" y1="46.30" x2="517.80" y2="261.10" stroke="#000" stroke-width="1.5" />
<line x1="517.00" y1="260.40" x2="789.30" y2="260.40" stroke="#000" stroke-width="1.5" />
<line x1="513.80" y1="260.40" x2="517.80" y2="260.40" stroke="#000" stroke-width="1.2" />
<text x="510.80" y="264.70" font-size="12" font-weight="bold" text-anchor="end" fill="#000" textLength="24.6" lengthAdjust="spacingAndGlyphs">0.00</text>
<line x1="515.60" y1="233.70" x2="517.80" y2="233.70" stroke="#000" stroke-width="1.2" />
<line x1="513.80" y1="207.00" x2="517.80" y2="207.00" stroke="#000" stroke-width="1.2" />
<text x="510.80" y="211.30" font-size="12" font-weight="bold" text-anchor="end" fill="#000" textLength="24.6" lengthAdjust="spacingAndGlyphs">0.05</text>
<line x1="515.60" y1="180.30" x2="517.80" y2="180.30" stroke="#000" stroke-width="1.2" />
<line x1="513.80" y1="153.60" x2="517.80" y2="153.60" stroke="#000" stroke-width="1.2" />
<text x="510.80" y="157.90" font-size="12" font-weight="bold" text-anchor="end" fill="#000" textLength="24.6" lengthAdjust="spacingAndGlyphs">0.10</text>
<line x1="515.60" y1="126.90" x2="517.80" y2="126.90" stroke="#000" stroke-width="1.2" />
<line x1="513.80" y1="100.20" x2="517.80" y2="100.20" stroke="#000" stroke-width="1.2" />
<text x="510.80" y="104.50" font-size="12" font-weight="bold" text-anchor="end" fill="#000" textLength="24.6" lengthAdjust="spacingAndGlyphs">0.15</text>
<line x1="515.60" y1="73.50" x2="517.80" y2="73.50" stroke="#000" stroke-width="1.2" />
<line x1="513.80" y1="46.80" x2="517.80" y2="46.80" stroke="#000" stroke-width="1.2" />
<text x="510.80" y="51.10" font-size="12" font-weight="bold" text-anchor="end" fill="#000" textLength="24.6" lengthAdjust="spacingAndGlyphs">0.20</text>
<line x1="518.00" y1="260.40" x2="518.00" y2="264.40" stroke="#000" stroke-width="1.2" />
<text x="518.00" y="276.50" font-size="12" font-weight="bold" text-anchor="middle" fill="#000" >-100</text>
<line x1="551.83" y1="260.40" x2="551.83" y2="262.70" stroke="#000" stroke-width="1.2" />
<line x1="585.65" y1="260.40" x2="585.65" y2="264.40" stroke="#000" stroke-width="1.2" />
<text x="585.65" y="276.50" font-size="12" font-weight="bold" text-anchor="middle" fill="#000" >-90</text>
<line x1="619.48" y1="260.40" x2="619.48" y2="262.70" stroke="#000" stroke-width="1.2" />
<line x1="653.30" y1="260.40" x2="653.30" y2="264.40" stroke="#000" stroke-width="1.2" />
<text x="653.30" y="276.50" font-size="12" font-weight="bold" text-anchor="middle" fill="#000" >-80</text>
<line x1="687.12" y1="260.40" x2="687.12" y2="262.70" stroke="#000" stroke-width="1.2" />
<line x1="720.95" y1="260.40" x2="720.95" y2="264.40" stroke="#000" stroke-width="1.2" />
<text x="720.95" y="276.50" font-size="12" font-weight="bold" text-anchor="middle" fill="#000" >-70</text>
<line x1="754.77" y1="260.40" x2="754.77" y2="262.70" stroke="#000" stroke-width="1.2" />
<line x1="788.60" y1="260.40" x2="788.60" y2="264.40" stroke="#000" stroke-width="1.2" />
<text x="788.60" y="276.50" font-size="12" font-weight="bold" text-anchor="middle" fill="#000" >-60</text>
<text x="0" y="0" font-size="23.4" font-weight="bold" text-anchor="middle" textLength="163.3" lengthAdjust="spacingAndGlyphs" transform="translate(472.2 152.1) rotate(-90)">Relative current</text>
<text x="554.20" y="303.20" font-size="22.2" font-weight="bold" text-anchor="start" fill="#000" textLength="198.6" lengthAdjust="spacingAndGlyphs">Test potential (mV)</text>
<text x="617.50" y="38.20" font-size="16.5" font-weight="bold" text-anchor="start" fill="#000" textLength="124.7" lengthAdjust="spacingAndGlyphs">Window current</text>
<text x="604.70" y="243.20" font-size="12" font-weight="bold" text-anchor="start" fill="#000" textLength="30.5" lengthAdjust="spacingAndGlyphs">RQ/H</text>
<text x="687.50" y="257.40" font-size="12" font-weight="bold" text-anchor="start" fill="#000" textLength="20.3" lengthAdjust="spacingAndGlyphs">H/H</text>
<clipPath id="clipB"><rect x="518" y="46.3" width="272" height="214.1"/></clipPath>
<polyline points="600.60,38.92 601.76,43.42 602.93,47.86 604.09,52.24 605.26,56.55 606.42,60.80 607.58,64.98 608.75,69.11 609.91,73.17 611.07,77.17 612.24,81.10 613.40,84.98 614.57,88.80 615.73,92.56 616.89,96.26 618.06,99.90 619.22,103.48 620.39,107.00 621.55,110.47 622.71,113.88 623.88,117.24 625.04,120.54 626.21,123.79 627.37,126.98 628.53,130.12 629.70,133.20 630.86,136.24 632.02,139.22 633.19,142.14 634.35,145.02 635.52,147.85 636.68,150.63 637.84,153.35 639.01,156.03 640.17,158.66 641.34,161.24 642.50,163.78 643.66,166.27 644.83,168.71 645.99,171.10 647.15,173.45 648.32,175.76 649.48,178.02 650.65,180.24 651.81,182.41 652.97,184.54 654.14,186.63 655.30,188.68 656.47,190.68 657.63,192.65 658.79,194.57 659.96,196.46 661.12,198.31 662.28,200.12 663.45,201.89 664.61,203.62 665.78,205.32 666.94,206.97 668.10,208.60 669.27,210.19 670.43,211.74 671.60,213.26 672.76,214.74 673.92,216.20 675.09,217.62 676.25,219.00 677.42,220.36 678.58,221.68 679.74,222.98 680.91,224.24 682.07,225.47 683.23,226.68 684.40,227.85 685.56,229.00 686.73,230.12 687.89,231.21 689.05,232.28 690.22,233.32 691.38,234.34 692.55,235.33 693.71,236.29 694.87,237.24 696.04,238.16 697.20,239.05 698.36,239.93 699.53,240.78 700.69,241.61 701.86,242.42 703.02,243.21 704.18,243.98 705.35,244.73 706.51,245.46 707.68,246.18 708.84,246.88 710.00,247.56 711.17,248.22 712.33,248.87 713.49,249.50 714.66,250.12 715.82,250.72 716.99,251.31 718.15,251.88 719.31,252.44 720.48,252.99 721.64,253.53 722.81,254.06 723.97,254.58 725.13,255.08 726.30,255.58 727.46,256.06 728.63,256.54 729.79,257.01 730.95,257.48 732.12,257.93 733.28,258.38 734.44,258.82 735.61,259.26 736.77,259.69 737.94,260.12 739.10,260.54" fill="none" stroke="#333" stroke-width="1.0" stroke-linejoin="round" stroke-linecap="round" clip-path="url(#clipB)"/>
<polyline points="641.70,260.09 642.90,259.82 644.09,259.55 645.29,259.28 646.49,259.01 647.68,258.74 648.88,258.47 650.08,258.19 651.27,257.91 652.47,257.63 653.67,257.35 654.86,257.06 656.06,256.77 657.26,256.48 658.45,256.18 659.65,255.88 660.85,255.57 662.04,255.25 663.24,254.93 664.44,254.60 665.63,254.26 666.83,253.91 668.03,253.56 669.22,253.20 670.42,252.82 671.62,252.44 672.81,252.04 674.01,251.64 675.21,251.22 676.40,250.78 677.60,250.34 678.80,249.87 679.99,249.40 681.19,248.91 682.39,248.40 683.58,247.87 684.78,247.33 685.98,246.76 687.17,246.18 688.37,245.58 689.57,244.95 690.76,244.31 691.96,243.64 693.16,242.95 694.35,242.23 695.55,241.49 696.75,240.72 697.94,239.92 699.14,239.10 700.34,238.25 701.53,237.37 702.73,236.45 703.93,235.51 705.12,234.53 706.32,233.52 707.52,232.48 708.71,231.40 709.91,230.28 711.11,229.12 712.30,227.93 713.50,226.70 714.69,225.42 715.89,224.11 717.09,222.75 718.28,221.35 719.48,219.90 720.68,218.40 721.87,216.86 723.07,215.27 724.27,213.63 725.46,211.94 726.66,210.20 727.86,208.40 729.05,206.55 730.25,204.64 731.45,202.68 732.64,200.66 733.84,198.58 735.04,196.43 736.23,194.23 737.43,191.96 738.63,189.63 739.82,187.23 741.02,184.77 742.22,182.23 743.41,179.63 744.61,176.95 745.81,174.20 747.00,171.38 748.20,168.48 749.40,165.50 750.59,162.45 751.79,159.31 752.99,156.10 754.18,152.80 755.38,149.41 756.58,145.94 757.77,142.38 758.97,138.74 760.17,135.00 761.36,131.17 762.56,127.25 763.76,123.23 764.95,119.11 766.15,114.90 767.35,110.58 768.54,106.16 769.74,101.64 770.94,97.02 772.13,92.29 773.33,87.44 774.53,82.49 775.72,77.43 776.92,72.25 778.12,66.96 779.31,61.55 780.51,56.02 781.71,50.37 782.90,44.60 784.10,38.70" fill="none" stroke="#333" stroke-width="1.0" stroke-linejoin="round" stroke-linecap="round" clip-path="url(#clipB)"/>
<polyline points="547.90,41.49 549.00,44.87 550.10,48.22 551.21,51.53 552.31,54.81 553.41,58.06 554.51,61.28 555.61,64.46 556.71,67.61 557.82,70.73 558.92,73.82 560.02,76.87 561.12,79.90 562.22,82.89 563.32,85.85 564.43,88.78 565.53,91.68 566.63,94.55 567.73,97.38 568.83,100.19 569.93,102.97 571.04,105.72 572.14,108.44 573.24,111.13 574.34,113.79 575.44,116.42 576.54,119.03 577.65,121.60 578.75,124.15 579.85,126.67 580.95,129.16 582.05,131.62 583.15,134.06 584.26,136.47 585.36,138.85 586.46,141.20 587.56,143.53 588.66,145.83 589.76,148.11 590.87,150.36 591.97,152.58 593.07,154.78 594.17,156.95 595.27,159.10 596.37,161.22 597.48,163.32 598.58,165.39 599.68,167.44 600.78,169.46 601.88,171.46 602.98,173.44 604.09,175.39 605.19,177.32 606.29,179.22 607.39,181.11 608.49,182.96 609.59,184.80 610.70,186.61 611.80,188.40 612.90,190.17 614.00,191.92 615.10,193.64 616.20,195.34 617.31,197.02 618.41,198.68 619.51,200.32 620.61,201.93 621.71,203.53 622.81,205.10 623.92,206.65 625.02,208.19 626.12,209.70 627.22,211.19 628.32,212.66 629.42,214.12 630.53,215.55 631.63,216.96 632.73,218.36 633.83,219.73 634.93,221.09 636.03,222.42 637.14,223.74 638.24,225.04 639.34,226.32 640.44,227.58 641.54,228.82 642.64,230.05 643.75,231.26 644.85,232.45 645.95,233.62 647.05,234.78 648.15,235.91 649.25,237.04 650.36,238.14 651.46,239.23 652.56,240.30 653.66,241.35 654.76,242.39 655.86,243.41 656.97,244.41 658.07,245.40 659.17,246.37 660.27,247.33 661.37,248.27 662.47,249.20 663.58,250.11 664.68,251.01 665.78,251.89 666.88,252.75 667.98,253.60 669.08,254.44 670.19,255.26 671.29,256.07 672.39,256.86 673.49,257.64 674.59,258.40 675.69,259.15 676.80,259.89 677.90,260.61 679.00,261.32" fill="none" stroke="#666" stroke-width="1.1" stroke-linejoin="round" stroke-linecap="butt" stroke-dasharray="1.1 2.9" clip-path="url(#clipB)"/>
<polyline points="551.00,259.78 551.99,259.54 552.99,259.29 553.98,259.03 554.98,258.76 555.97,258.47 556.96,258.18 557.96,257.87 558.95,257.55 559.95,257.22 560.94,256.88 561.94,256.52 562.93,256.15 563.92,255.77 564.92,255.38 565.91,254.97 566.91,254.55 567.90,254.11 568.89,253.67 569.89,253.20 570.88,252.72 571.88,252.23 572.87,251.72 573.86,251.19 574.86,250.65 575.85,250.10 576.85,249.52 577.84,248.93 578.84,248.32 579.83,247.69 580.82,247.05 581.82,246.38 582.81,245.70 583.81,245.00 584.80,244.27 585.79,243.53 586.79,242.76 587.78,241.98 588.78,241.17 589.77,240.34 590.76,239.48 591.76,238.60 592.75,237.70 593.75,236.78 594.74,235.82 595.74,234.85 596.73,233.84 597.72,232.81 598.72,231.76 599.71,230.67 600.71,229.56 601.70,228.41 602.69,227.24 603.69,226.04 604.68,224.80 605.68,223.54 606.67,222.24 607.66,220.91 608.66,219.54 609.65,218.14 610.65,216.71 611.64,215.24 612.64,213.73 613.63,212.19 614.62,210.61 615.62,208.99 616.61,207.33 617.61,205.63 618.60,203.88 619.59,202.10 620.59,200.27 621.58,198.41 622.58,196.49 623.57,194.53 624.56,192.53 625.56,190.48 626.55,188.38 627.55,186.23 628.54,184.03 629.54,181.79 630.53,179.49 631.52,177.14 632.52,174.73 633.51,172.28 634.51,169.76 635.50,167.20 636.49,164.57 637.49,161.89 638.48,159.15 639.48,156.35 640.47,153.49 641.46,150.56 642.46,147.58 643.45,144.53 644.45,141.41 645.44,138.23 646.44,134.99 647.43,131.67 648.42,128.29 649.42,124.84 650.41,121.31 651.41,117.71 652.40,114.04 653.39,110.30 654.39,106.48 655.38,102.58 656.38,98.61 657.37,94.55 658.36,90.42 659.36,86.20 660.35,81.90 661.35,77.52 662.34,73.05 663.34,68.50 664.33,63.86 665.32,59.13 666.32,54.31 667.31,49.39 668.31,44.39 669.30,39.29" fill="none" stroke="#666" stroke-width="1.1" stroke-linejoin="round" stroke-linecap="butt" stroke-dasharray="1.1 2.9" clip-path="url(#clipB)"/>
<text x="220.3" y="364.8" font-size="37" font-weight="bold" stroke="#000" stroke-width="0.9" transform="translate(220.3 0) scale(0.77 1) translate(-220.3 0)">C</text>
<line x1="277.10" y1="327.10" x2="277.10" y2="525.60" stroke="#000" stroke-width="1.6" />
<line x1="276.30" y1="524.80" x2="526.70" y2="524.80" stroke="#000" stroke-width="1.6" />
<line x1="272.80" y1="524.80" x2="277.10" y2="524.80" stroke="#000" stroke-width="1.3" />
<text x="269.50" y="528.10" font-size="11.5" font-weight="bold" text-anchor="end" fill="#000" >-1000</text>
<line x1="272.80" y1="488.90" x2="277.10" y2="488.90" stroke="#000" stroke-width="1.3" />
<text x="269.50" y="492.20" font-size="11.5" font-weight="bold" text-anchor="end" fill="#000" >-800</text>
<line x1="272.80" y1="453.00" x2="277.10" y2="453.00" stroke="#000" stroke-width="1.3" />
<text x="269.50" y="456.30" font-size="11.5" font-weight="bold" text-anchor="end" fill="#000" >-600</text>
<line x1="272.80" y1="417.10" x2="277.10" y2="417.10" stroke="#000" stroke-width="1.3" />
<text x="269.50" y="420.40" font-size="11.5" font-weight="bold" text-anchor="end" fill="#000" >-400</text>
<line x1="272.80" y1="381.20" x2="277.10" y2="381.20" stroke="#000" stroke-width="1.3" />
<text x="269.50" y="384.50" font-size="11.5" font-weight="bold" text-anchor="end" fill="#000" >-200</text>
<line x1="272.80" y1="345.30" x2="277.10" y2="345.30" stroke="#000" stroke-width="1.3" />
<text x="269.50" y="348.60" font-size="11.5" font-weight="bold" text-anchor="end" fill="#000" >0</text>
<line x1="276.90" y1="524.80" x2="276.90" y2="528.80" stroke="#000" stroke-width="1.3" />
<text x="276.90" y="539.40" font-size="11.5" font-weight="bold" text-anchor="middle" fill="#000" >-120</text>
<line x1="308.12" y1="524.80" x2="308.12" y2="528.80" stroke="#000" stroke-width="1.3" />
<text x="308.12" y="539.40" font-size="11.5" font-weight="bold" text-anchor="middle" fill="#000" >-100</text>
<line x1="339.34" y1="524.80" x2="339.34" y2="528.80" stroke="#000" stroke-width="1.3" />
<text x="339.34" y="539.40" font-size="11.5" font-weight="bold" text-anchor="middle" fill="#000" >-80</text>
<line x1="370.56" y1="524.80" x2="370.56" y2="528.80" stroke="#000" stroke-width="1.3" />
<text x="370.56" y="539.40" font-size="11.5" font-weight="bold" text-anchor="middle" fill="#000" >-60</text>
<line x1="401.78" y1="524.80" x2="401.78" y2="528.80" stroke="#000" stroke-width="1.3" />
<text x="401.78" y="539.40" font-size="11.5" font-weight="bold" text-anchor="middle" fill="#000" >-40</text>
<line x1="433.00" y1="524.80" x2="433.00" y2="528.80" stroke="#000" stroke-width="1.3" />
<text x="433.00" y="539.40" font-size="11.5" font-weight="bold" text-anchor="middle" fill="#000" >-20</text>
<line x1="464.22" y1="524.80" x2="464.22" y2="528.80" stroke="#000" stroke-width="1.3" />
<text x="464.22" y="539.40" font-size="11.5" font-weight="bold" text-anchor="middle" fill="#000" >0</text>
<line x1="495.44" y1="524.80" x2="495.44" y2="528.80" stroke="#000" stroke-width="1.3" />
<text x="495.44" y="539.40" font-size="11.5" font-weight="bold" text-anchor="middle" fill="#000" >20</text>
<line x1="526.66" y1="524.80" x2="526.66" y2="528.80" stroke="#000" stroke-width="1.3" />
<text x="526.66" y="539.40" font-size="11.5" font-weight="bold" text-anchor="middle" fill="#000" >40</text>
<text x="0" y="0" font-size="16" font-weight="bold" text-anchor="middle" transform="translate(233.6 432) rotate(-90)">pA</text>
<text x="332.80" y="557.70" font-size="15.7" font-weight="bold" text-anchor="start" fill="#000" textLength="140.7" lengthAdjust="spacingAndGlyphs">Test potential (mV)</text>
<text x="284.00" y="481.80" font-size="15" font-weight="bold" text-anchor="start" fill="#000" textLength="38" lengthAdjust="spacingAndGlyphs">RQ/H</text>
<text x="442.10" y="421.20" font-size="15" font-weight="bold" text-anchor="start" fill="#000" textLength="25.3" lengthAdjust="spacingAndGlyphs">H/H</text>
<line x1="277.00" y1="345.30" x2="550.00" y2="345.30" stroke="#888" stroke-width="1" stroke-dasharray="1 1.4"/>
<polyline points="272.83,346.48 273.43,344.78 274.03,345.74 274.63,345.31 275.22,345.28 275.82,345.29 276.42,344.59 277.02,345.16 277.62,344.88 278.22,346.29 278.82,345.16 279.42,344.91 280.02,344.89 280.62,344.72 281.22,344.56 281.82,344.76 282.42,345.05 283.02,344.78 283.62,345.18 284.22,344.77 284.81,344.85 285.41,345.38 286.01,345.04 286.60,344.69 287.20,344.82 287.79,345.09 288.38,345.61 288.97,344.87 289.56,344.92 290.15,345.40 290.74,344.79 291.32,345.05 291.91,345.53 292.49,345.49 293.07,345.39 293.65,345.67 294.23,344.53 294.80,345.96 295.37,345.37 295.95,345.22 296.52,346.01 297.08,346.27 297.65,345.99 298.21,345.89 298.77,346.41 299.33,346.52 299.89,347.17 300.44,347.09 300.99,347.05 301.54,347.54 302.08,347.25 302.62,347.17 303.16,347.88 303.70,348.07 304.23,347.98 304.76,347.99 305.29,348.55 305.81,347.81 306.33,349.15 306.85,349.31 307.36,348.80 307.87,349.64 308.38,349.53 308.88,350.39 309.38,349.67 309.88,350.33 310.37,351.17 310.86,351.61 311.35,350.74 311.83,351.61 312.32,352.20 312.79,352.17 313.27,353.25 313.74,352.60 314.21,353.46 314.67,353.29 315.13,354.48 315.59,354.32 316.05,354.54 316.50,354.41 316.95,355.95 317.40,355.98 317.84,356.35 318.28,356.85 318.72,356.94 319.15,356.97 319.58,357.29 320.01,357.67 320.44,358.82 320.86,358.22 321.28,358.92 321.70,359.41 322.11,360.01 322.52,360.54 322.93,360.31 323.33,360.56 323.74,361.58 324.14,362.43 324.53,362.69 324.93,362.93 325.32,363.17 325.71,363.82 326.09,364.07 326.48,364.88 326.86,364.76 327.24,365.53 327.61,365.89 327.98,366.57 328.35,366.91 328.72,368.18 329.08,368.27 329.45,368.73 329.81,367.95 330.16,369.01 330.52,369.38 330.87,370.25 331.22,369.73 331.57,371.41 331.91,371.85 332.25,371.49 332.59,372.08 332.93,372.62 333.26,373.39 333.60,374.08 333.93,375.05 334.25,374.75 334.58,375.57 334.90,375.84 335.22,376.89 335.54,377.02 335.86,377.73 336.17,377.36 336.49,378.17 336.80,378.44 337.11,379.75 337.41,379.95 337.72,380.11 338.02,380.55 338.32,381.38 338.62,381.46 338.92,381.88 339.22,382.88 339.51,384.08 339.80,383.63 340.09,384.03 340.38,384.32 340.67,384.77 340.96,385.93 341.24,386.55 341.53,386.77 341.81,387.39 342.09,387.83 342.37,388.35 342.64,388.28 342.92,389.17 343.19,389.88 343.47,390.09 343.74,390.71 344.01,391.11 344.28,391.80 344.55,392.73 344.82,392.81 345.08,393.42 345.35,394.28 345.61,394.74 345.87,395.63 346.14,394.82 346.40,396.38 346.66,396.43 346.92,397.17 347.18,397.94 347.44,398.55 347.69,399.06 347.95,399.28 348.20,400.31 348.46,400.18 348.71,400.75 348.97,401.61 349.22,401.66 349.47,403.14 349.72,403.27 349.98,404.20 350.23,403.96 350.48,404.36 350.73,405.08 350.98,405.81 351.23,405.87 351.48,406.74 351.73,407.13 351.97,408.23 352.22,407.96 352.47,409.09 352.72,409.02 352.97,409.44 353.21,410.06 353.46,410.42 353.71,411.41 353.96,412.25 354.21,412.48 354.45,413.17 354.70,414.05 354.95,414.10 355.20,414.60 355.45,414.96 355.70,415.02 355.94,416.37 356.19,416.02 356.44,417.39 356.69,417.68 356.94,418.60 357.19,418.71 357.45,418.97 357.70,419.91 357.95,420.11 358.20,420.76 358.46,421.36 358.71,421.82 358.96,422.33 359.22,422.62 359.48,423.37 359.73,423.20 359.99,424.41 360.25,424.57 360.51,425.90 360.77,426.47 361.03,425.85 361.29,427.10 361.55,427.52 361.81,427.71 362.08,428.78 362.34,428.94 362.61,428.99 362.88,430.03 363.15,430.58 363.42,431.18 363.69,431.22 363.96,432.37 364.24,432.92 364.51,432.76 364.79,433.44 365.07,434.14 365.34,434.47 365.63,435.78 365.91,435.74 366.19,435.81 366.48,436.39 366.76,437.14 367.05,438.45 367.34,438.08 367.63,438.68 368.60,438.75 369.37,438.68 370.15,439.64 370.93,438.79 371.71,439.39 372.50,439.33 373.29,439.65 374.09,439.17 374.88,440.36 375.68,439.85 376.49,440.06 377.29,439.88 378.10,440.10 378.91,440.71 379.72,441.00 380.53,441.06 381.35,441.36 382.17,441.32 382.98,441.21 383.80,441.62 384.63,441.64 385.45,441.51 386.27,441.89 387.10,442.18 387.92,441.89 388.75,441.75 389.57,442.18 390.40,442.64 391.23,441.93 392.06,441.98 392.88,441.97 393.71,442.44 394.54,441.34 395.36,442.07 396.19,442.31 397.01,441.54 397.83,442.26 398.65,441.83 399.46,441.34 400.28,441.48 401.09,440.73 401.89,440.92 402.69,441.59 403.49,440.46 404.29,441.22 405.07,440.34 405.86,440.49 406.63,439.92 407.41,438.87 408.17,439.19 408.93,439.18 409.68,438.42 410.42,438.04 411.16,438.32 411.89,437.63 412.61,436.91 413.33,436.91 414.03,437.07 414.73,436.22 415.42,436.31 416.10,436.10 416.78,435.16 417.45,434.31 418.11,433.80 418.76,433.79 419.41,433.63 420.05,432.94 420.68,432.54 421.31,431.69 421.93,431.43 422.54,430.64 423.15,430.15 423.74,429.27 424.34,428.62 424.92,428.44 425.50,427.65 426.07,427.12 426.64,427.10 427.20,426.23 427.75,426.69 428.30,425.38 428.84,424.21 429.37,424.08 429.90,423.30 430.42,422.29 430.94,422.27 431.45,420.96 431.96,419.51 432.46,420.19 432.95,419.02 433.44,419.09 433.92,417.66 434.40,416.79 434.87,417.05 435.33,415.44 435.79,415.19 436.25,414.92 436.70,413.75 437.14,412.97 437.58,412.33 438.02,411.87 438.45,410.58 438.87,410.35 439.29,409.62 439.71,409.51 440.12,407.85 440.53,406.92 440.93,406.77 441.33,405.65 441.72,405.16 442.11,404.38 442.49,404.01 442.87,402.64 443.25,402.11 443.62,400.51 444.00,400.36 444.36,400.48 444.73,398.97 445.10,398.24 445.46,397.32 445.82,397.22 446.18,396.35 446.54,395.14 446.89,395.06 447.25,394.19 447.61,393.63 447.96,392.42 448.32,392.52 448.68,391.33 449.04,390.42 449.39,389.55 449.75,388.93 450.11,388.59 450.48,387.47 450.84,387.22 451.21,386.33 451.58,385.88 451.95,384.98 452.33,383.96 452.70,382.60 453.09,382.66 453.47,382.13 453.86,381.20 454.25,380.63 454.65,379.57 455.06,378.90 455.46,378.01 455.88,378.12 456.30,377.00 456.72,376.08 457.15,375.10 457.59,374.83 458.03,374.70 458.47,373.68 458.93,372.59 459.38,372.67 459.85,371.99 460.32,371.16 460.79,370.43 461.27,369.89 461.75,369.01 462.24,368.44 462.73,367.23 463.23,367.38 463.73,366.28 464.23,366.26 464.74,364.19 465.26,364.50 465.78,363.96 466.30,362.86 466.83,362.50 467.36,361.97 467.89,361.27 468.43,360.25 468.97,359.77 469.51,359.55 470.06,359.02 470.61,357.99 471.17,357.36 471.73,356.79 472.29,356.47 472.85,355.13 473.42,354.43 473.99,354.34 474.56,353.31 475.13,352.89 475.71,352.53 476.29,352.08 476.87,350.94 477.45,351.01 478.04,349.53 478.63,349.76 479.22,348.44 479.81,347.97 480.40,348.07 481.00,347.13 481.60,346.43 482.20,346.00 482.81,345.76 483.42,345.03 484.03,344.49 484.65,344.33 485.27,343.17 485.89,342.72 486.51,342.18 487.14,342.25 487.77,341.67 488.41,341.27 489.05,340.30 489.69,339.76 490.34,339.63 490.99,338.71 491.65,338.66 492.31,338.15 492.97,337.20 493.64,336.96 494.31,336.50 494.99,336.71 495.67,336.57 496.36,335.21 497.05,334.84 497.75,333.63 498.45,334.10 499.16,333.64 499.87,332.88 500.58,333.17 501.31,331.98 502.04,332.10 502.77,331.89 503.51,331.07 504.25,331.49 505.00,331.25 505.76,330.09 506.52,329.80 507.29,330.22 508.07,329.73 508.85,329.07 509.63,329.14 510.43,328.98 511.23,328.75 512.04,328.88 512.85,328.53 513.67,328.83 514.50,328.52 515.33,328.12 516.17,328.11 517.02,328.07 517.88,327.74 518.74,326.96" fill="none" stroke="#000" stroke-width="2.55" stroke-linejoin="round" stroke-linecap="round" />
<polyline points="273.00,345.30 277.00,345.30 283.00,345.50 285.50,345.00 286.20,341.20 286.80,345.50" fill="none" stroke="#000" stroke-width="2.55" stroke-linejoin="round" stroke-linecap="round" />
<polyline points="286.83,345.87 286.88,346.24 286.92,347.43 286.97,347.53 287.02,348.33 287.06,348.91 287.11,350.03 287.15,350.15 287.20,350.64 287.25,351.49 287.29,351.87 287.34,352.74 287.38,353.33 287.43,354.07 287.47,355.30 287.52,355.14 287.56,355.95 287.61,356.52 287.65,357.48 287.70,357.48 287.74,358.31 287.79,359.20 287.83,360.06 287.88,360.51 287.93,361.00 287.98,361.53 288.02,362.67 288.07,363.66 288.12,363.92 288.17,364.53 288.22,365.28 288.27,365.46 288.32,366.34 288.37,367.01 288.43,367.87 288.48,368.41 288.54,368.66 288.59,370.14 288.65,371.00 288.70,370.97 288.76,371.87 288.82,372.48 288.88,373.32 288.94,373.19 289.01,374.93 289.07,374.87 289.13,376.13 289.20,376.38 289.27,376.88 289.34,377.62 289.41,378.65 289.48,378.69 289.55,379.52 289.62,380.14 289.70,380.37 289.78,382.09 289.85,382.49 289.94,382.94 290.02,384.02 290.10,383.93 290.19,384.90 290.27,386.18 290.36,386.58 290.45,386.12 290.55,386.38 290.64,387.84 290.74,389.23 290.83,389.35 290.94,390.09 291.04,391.04 291.14,391.17 291.25,392.20 291.36,393.06 291.47,393.60 291.58,394.22 291.70,394.52 291.82,395.56 291.94,395.88 292.06,397.13 292.18,398.22 292.31,397.71 292.44,397.85 292.57,399.11 292.71,400.04 292.85,400.91 292.99,401.57 293.13,401.56 293.28,402.19 293.43,403.55 293.58,403.36 293.73,404.77 293.89,404.94 294.05,405.92 294.21,406.54 294.38,407.19 294.55,407.84 294.72,407.84 294.89,408.92 295.07,409.45 295.25,410.18 295.44,411.13 295.63,411.23 295.82,411.69 296.01,412.31 296.21,413.08 296.41,414.07 296.61,414.14 296.82,415.45 297.03,415.76 297.25,416.19 297.47,416.42 297.69,417.58 297.92,418.35 298.15,418.10 298.38,419.74 298.62,420.50 298.86,420.65 299.10,421.30 299.35,422.58 299.60,422.76 299.86,422.61 300.12,423.52 300.39,424.06 300.66,424.66 300.93,424.47 301.21,426.15 301.49,426.25 301.77,427.12 302.06,427.60 302.36,428.53 302.65,428.70 302.96,429.10 303.26,430.14 303.57,431.02 303.89,430.99 304.21,432.15 304.53,432.34 304.86,432.62 305.19,433.91 305.53,433.65 305.86,434.86 306.20,434.89 306.55,435.78 306.89,435.75 307.24,436.45 307.59,437.67 307.95,437.92 308.30,438.42 308.66,438.81 309.02,439.68 309.38,439.58 309.74,440.23 310.10,441.12 310.47,441.44 310.83,442.03 311.20,442.81 311.57,443.33 311.93,443.85 312.30,445.07 312.67,445.39 313.04,446.01 313.40,446.12 313.77,446.51 314.14,446.73 314.50,447.67 314.87,447.61 315.23,448.69 315.59,449.71 315.96,450.57 316.32,450.89 316.67,450.81 317.03,451.84 317.39,451.95 317.74,453.07 318.09,453.30 318.44,454.20 318.78,455.37 319.12,455.35 319.46,456.41 319.80,456.22 320.13,456.61 320.46,457.76 320.79,458.47 321.11,458.25 321.43,459.04 321.74,459.09 322.05,460.10 322.35,461.06 322.65,461.31 322.95,461.72 323.25,462.01 323.53,463.22 323.82,463.96 324.10,464.48 324.38,464.96 324.66,465.02 324.93,466.67 325.20,466.63 325.47,467.20 325.74,468.11 326.00,467.69 326.26,469.03 326.52,469.60 326.78,470.38 327.04,471.33 327.30,471.62 327.55,471.42 327.80,472.55 328.06,473.34 328.31,473.93 328.56,474.03 328.81,474.50 329.06,475.88 329.31,476.42 329.56,476.89 329.81,476.90 330.07,478.73 330.32,477.70 330.57,479.19 330.83,480.65 331.08,480.47 331.34,481.20 331.60,481.31 331.86,482.80 332.12,482.47 332.38,483.61 332.65,484.16 332.92,484.34 333.19,485.61 333.46,485.40 333.74,486.25 334.02,487.07 334.30,487.52 334.59,488.41 334.88,489.16 335.17,489.31 335.47,489.81 335.77,490.39 336.08,491.02 336.39,492.01 336.70,492.22 337.02,493.01 337.34,493.40 337.67,493.70 338.01,494.86 338.35,494.76 338.69,495.68 339.04,496.75 339.40,496.40 339.76,497.31 340.82,496.51 340.97,496.69 341.12,496.14 341.27,496.34 341.42,496.08 341.57,496.12 341.72,496.43 341.87,495.77 342.02,495.70 342.17,495.25 342.31,494.98 342.46,494.57 342.61,494.03 342.75,494.48 342.89,494.82 343.04,494.21 343.18,493.65 343.32,494.21 343.46,493.27 343.60,493.00 343.74,492.58 343.88,492.46 344.02,492.50 344.16,493.08 344.29,492.10 344.43,491.60 344.56,491.53 344.70,491.46 344.83,490.72 344.97,491.15 345.10,491.14 345.23,490.79 345.37,490.68 345.50,489.80 345.63,489.44 345.76,490.27 345.89,489.99 346.02,488.85 346.15,489.24 346.27,488.96 346.40,488.92 346.53,488.59 346.66,488.12 346.78,488.14 346.91,487.91 347.03,487.62 347.16,486.76 347.28,486.14 347.40,486.69 347.53,486.17 347.65,486.61 347.77,486.55 347.89,486.17 348.01,485.73 348.13,485.66 348.25,485.81 348.37,484.93 348.49,485.28 348.61,484.98 348.73,484.60 348.85,484.79 348.97,483.80 349.08,484.16 349.20,483.27 349.32,483.10 349.43,482.77 349.55,483.07 349.66,482.36 349.78,482.48 349.89,481.83 350.01,482.37 350.12,482.41 350.23,481.62 350.35,481.89 350.46,481.28 350.57,481.61 350.68,480.65 350.79,479.84 350.91,480.68 351.02,479.88 351.13,479.33 351.24,479.23 351.35,478.66 351.46,478.94 351.57,478.39 351.68,479.05 351.79,478.53 351.89,477.49 352.00,477.30 352.11,477.40 352.22,476.69 352.33,477.09 352.43,476.88 352.54,476.39 352.65,476.24 352.76,476.37 352.86,476.46 352.97,476.25 353.08,475.50 353.18,475.56 353.29,474.76 353.39,474.93 353.50,474.21 353.60,474.57 353.71,473.65 353.82,473.51 353.92,473.61 354.02,473.57 354.13,472.63 354.23,472.71 354.34,472.71 354.44,472.51 354.55,471.90 354.65,471.99 354.75,471.63 354.86,471.97 354.96,471.44 355.06,470.55 355.17,470.00 355.27,470.57 355.37,470.71 355.47,470.12 355.58,470.13 355.68,469.42 355.78,468.87 355.88,469.38 355.98,468.91 356.08,468.88 356.19,467.92 356.29,468.23 356.39,467.71 356.49,467.97 356.59,467.25 356.69,467.00 356.79,466.77 356.89,467.18 356.99,466.51 357.09,465.99 357.19,465.66 357.29,465.42 357.39,466.06 357.48,464.67 357.58,464.77 357.68,465.05 357.78,465.00 357.88,464.30 357.98,464.39 358.07,464.14 358.17,463.98 358.27,463.41 358.37,463.73 358.46,462.99 358.56,463.22 358.66,462.06 358.75,462.53 358.85,461.53 358.95,461.20 359.04,461.66 359.14,460.96 359.23,461.17 359.33,460.40 359.42,461.09 359.52,460.30 359.61,459.66 359.71,459.88 359.80,459.88 359.90,459.07 359.99,459.28 360.08,459.57 360.18,458.92 360.27,458.37 360.36,457.94 360.46,458.10 360.55,457.13 360.64,456.35 360.74,456.94 360.83,456.56 360.92,457.31 361.01,456.50 361.10,455.87 361.20,455.57 361.29,455.91 361.38,455.20 361.47,455.05 361.56,454.98 361.65,454.80 361.74,454.57 361.83,454.33 361.92,454.51 362.01,454.41 362.10,452.99 362.19,454.23 362.28,453.13 362.37,453.28 362.46,452.35 362.55,452.48 362.64,452.20 362.73,451.92 362.81,451.94 362.90,451.62 362.99,450.81 363.08,450.88 363.16,450.93 363.25,450.68 363.34,450.08 363.43,449.86 363.51,449.66 363.60,449.09 363.68,448.78 363.77,449.54 363.86,448.61 363.94,448.54 364.03,448.00 364.11,448.48 364.20,448.40 364.28,447.46 364.37,447.48 364.45,446.79 364.54,447.43 364.62,446.90 364.70,446.04 364.79,446.53 364.87,445.98 364.95,445.75 365.04,445.49 365.12,444.89 365.20,444.70 365.29,444.86 365.37,444.38 365.45,443.83 365.53,444.63 365.61,443.60 365.69,443.24 365.78,442.95 365.86,443.19 365.94,443.05 366.02,442.56 366.10,442.53 366.18,441.46 366.26,441.61 366.34,441.34 366.42,441.26 366.50,441.19 366.58,440.07 366.66,441.63 366.73,439.99 366.81,440.18 366.89,440.10 366.97,439.87 367.30,438.91 367.76,437.16 368.21,437.16 368.67,437.16 369.13,435.92 369.58,435.23 370.04,434.13 370.50,434.73 370.96,433.83 371.42,432.69 371.88,432.31 372.34,431.67 372.80,430.66 373.26,430.31 373.73,429.84 374.19,429.29 374.66,428.89 375.12,427.81 375.59,426.99 376.06,426.64 376.53,425.63 377.01,424.77 377.48,424.96 377.96,423.78 378.44,423.31 378.92,422.86 379.40,421.60 379.88,421.57 380.37,420.87 380.85,420.04 381.34,419.57 381.84,418.54 382.33,417.40 382.83,417.44 383.33,416.59 383.83,416.59 384.33,415.76 384.84,414.86 385.35,414.44 385.86,414.28 386.37,413.60 386.89,412.72 387.41,412.13 387.94,411.28 388.46,410.73 388.99,410.39 389.53,409.54 390.06,409.10 390.60,408.02 391.15,407.24 391.69,406.65 392.24,406.52 392.80,406.56 393.35,405.95 393.92,404.62 394.48,403.86 395.05,404.13 395.62,403.47 396.20,402.28 396.78,402.59 397.37,401.75 397.96,401.62 398.55,400.75 399.15,400.42 399.76,399.70 400.36,398.75 400.98,398.50 401.59,397.84 402.21,397.87 402.84,396.75 403.47,396.07 404.10,396.37 404.74,396.06 405.38,395.69 406.02,395.10 406.67,393.73 407.32,393.55 407.97,393.14 408.62,392.87 409.27,391.67 409.93,391.98 410.59,391.63 411.25,390.75 411.91,390.68 412.57,390.62 413.24,389.78 413.90,389.69 414.56,389.24 415.23,388.59 415.89,388.14 416.55,387.44 417.22,387.56 417.88,386.52 418.54,386.01 419.20,386.06 419.86,385.11 420.51,385.07 421.17,384.85 421.82,384.06 422.47,383.63 423.12,383.46 423.77,382.95 424.41,381.69 425.05,381.32 425.69,381.78 426.33,380.99 426.97,379.66 427.60,379.45 428.23,379.47 428.86,378.64 429.49,378.68 430.12,378.07 430.74,377.73 431.37,376.67 431.99,376.81 432.61,376.79 433.22,375.34 433.84,375.58 434.45,374.97 435.07,374.35 435.68,373.60 436.29,372.71 436.90,372.30 437.51,372.36 438.11,371.92 438.72,371.49 439.32,370.87 439.92,370.32 440.52,369.33 441.12,368.52 441.72,368.48 442.32,368.04 442.92,367.36 443.52,366.25 444.11,366.06 444.71,365.17 445.31,365.19 445.90,364.23 446.50,363.99 447.09,363.61 447.69,362.99 448.29,362.87 448.88,361.46 449.48,360.53 450.08,361.08 450.68,360.69 451.28,360.16 451.88,359.21 452.48,358.76 453.09,358.08 453.69,357.05 454.30,356.77 454.91,356.61 455.52,355.71 456.13,356.06 456.74,354.34 457.36,354.21 457.97,354.25 458.59,353.14 459.22,352.46 459.84,351.89 460.47,351.63 461.10,351.94 461.73,351.08 462.37,350.65 463.01,349.83 463.65,349.86 464.30,349.16 464.95,348.37 465.60,348.11 466.26,347.92 466.92,347.85 467.58,347.02 468.25,346.83 468.92,346.98 469.60,345.63 470.28,345.12 470.96,345.55 471.65,345.02 472.35,344.51 473.05,344.32 473.75,343.81 474.46,343.82 475.18,343.25 475.90,343.38 476.63,342.44 477.36,342.33 478.09,342.43 478.84,342.02 479.59,342.23 480.34,341.79 481.10,341.45 481.87,341.56 482.64,341.16 483.41,340.68 484.19,340.71 484.98,340.73 485.77,340.75 486.56,340.88 487.36,341.10 488.16,340.92 488.96,341.30 489.77,341.09 490.58,340.56 491.39,341.19 492.20,341.03 493.02,340.46 493.84,340.75 494.66,341.05 495.48,340.78 496.31,341.10 497.13,340.93 497.96,341.10 498.78,340.80 499.61,341.12 500.44,340.94 501.26,341.39 502.09,340.65 502.92,341.46 503.74,341.88 504.57,341.76 505.39,341.66 506.21,341.97 507.03,341.61 507.85,341.74 508.66,342.04 509.47,342.24 510.29,342.77 511.09,342.26 511.90,343.06 512.70,342.30 513.50,342.72 514.29,343.13 515.08,343.70 515.87,343.23 516.65,342.84 517.42,343.89 518.20,343.88 518.96,343.66 519.72,343.82 520.48,344.09 521.23,344.51 521.97,344.86 522.71,344.25 523.44,345.71 524.16,345.03 524.88,345.05 525.59,345.55 526.29,345.48" fill="none" stroke="#000" stroke-width="2.55" stroke-linejoin="round" stroke-linecap="round" />
<polyline points="450.00,486.20 453.50,486.20 545.70,420.60 545.70,486.20 550.10,486.20" fill="none" stroke="#000" stroke-width="1.4" stroke-linejoin="round" stroke-linecap="butt" />
<text x="431.50" y="492.90" font-size="8.2" font-weight="bold" text-anchor="start" fill="#000" textLength="32.7" lengthAdjust="spacingAndGlyphs">-120 mV</text>
<text x="535.50" y="417.60" font-size="7.7" font-weight="bold" text-anchor="start" fill="#000" textLength="30.2" lengthAdjust="spacingAndGlyphs">+40 mV</text>
<text x="0" y="0" font-size="8.6" fill="#000" stroke="#000" stroke-width="0.3" transform="translate(460.8 471) rotate(-35.8)" textLength="75" lengthAdjust="spacingAndGlyphs">Voltage ramp (2 s)</text>
</svg></body></html>
